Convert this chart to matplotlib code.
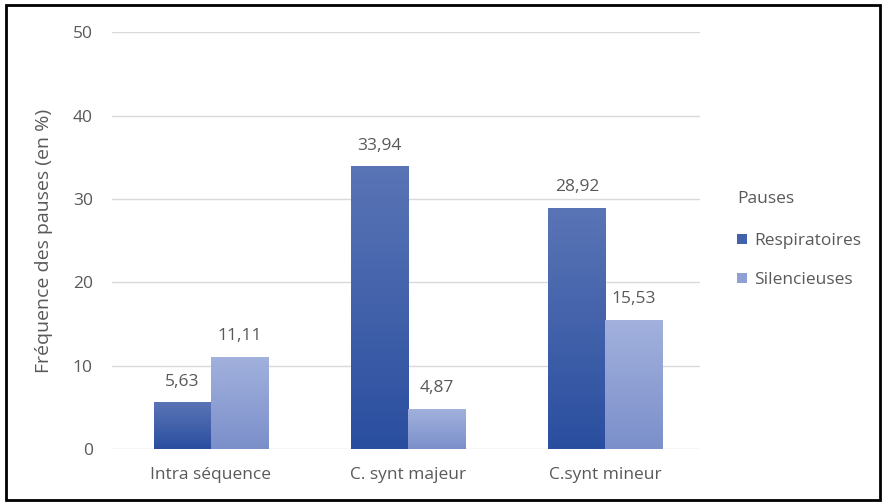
import matplotlib.pyplot as plt
import numpy as np
from matplotlib.patches import Rectangle
from matplotlib.colors import LinearSegmentedColormap

plt.rcParams['font.family'] = ['Open Sans', 'DejaVu Sans']

categories = ['Intra séquence', 'C. synt majeur', 'C.synt mineur']
respiratoires = [5.63, 33.94, 28.92]
silencieuses = [11.11, 4.87, 15.53]
series_names = ['Respiratoires', 'Silencieuses']

text_col = '#595959'
dark_cmap = LinearSegmentedColormap.from_list('d', ['#2a4e9f', '#5a75b6'])
light_cmap = LinearSegmentedColormap.from_list('l', ['#7b8fca', '#a2b1dd'])

fig = plt.figure(figsize=(8.84, 5.03), dpi=100)
ax = fig.add_axes([0.127, 0.107, 0.665, 0.829])

x = np.arange(len(categories))
width = 0.29


def gradient_bars(xs, vals, cmap, label):
    bars = ax.bar(xs, vals, width, color=cmap(0.5), label=label, zorder=2)
    grad = np.linspace(0, 1, 256).reshape(-1, 1)
    for b in bars:
        bx, by = b.get_x(), b.get_y()
        bw, bh = b.get_width(), b.get_height()
        im = ax.imshow(grad, cmap=cmap, origin='lower', aspect='auto',
                       extent=[bx, bx + bw, by, by + bh], zorder=2.5)
        im.set_clip_path(b)
        ax.text(bx + bw / 2, bh + 1.5, f'{bh:.2f}'.replace('.', ','),
                ha='center', va='bottom', fontsize=12.5, color=text_col)
    return bars


gradient_bars(x - width / 2, respiratoires, dark_cmap, series_names[0])
gradient_bars(x + width / 2, silencieuses, light_cmap, series_names[1])

ax.set_xlim(-0.5, 2.48)
ax.set_ylim(0, 50)
ax.set_yticks(range(0, 51, 10))
ax.set_xticks(x)
ax.set_xticklabels(categories)
ax.tick_params(length=0, labelsize=12.5, colors=text_col)
ax.tick_params(axis='y', pad=14)
ax.tick_params(axis='x', pad=13)
ax.grid(axis='y', color='#d9d9d9', linewidth=1, zorder=0)
ax.set_axisbelow(True)
for s in ax.spines.values():
    s.set_visible(False)
ax.set_ylabel('Fréquence des pauses (en %)', fontsize=14, color=text_col)
ax.yaxis.set_label_coords(-0.1, 0.5)

leg = ax.legend(title='Pauses', loc='upper left',
                bbox_to_anchor=(737 / 884, 1 - 191 / 503), bbox_transform=fig.transFigure,
                frameon=False, fontsize=12.5, title_fontsize=12.5,
                handlelength=0.55, handleheight=0.55, handletextpad=0.45,
                labelspacing=1.3, borderpad=0, borderaxespad=0,
                labelcolor=text_col)
leg.get_title().set_color(text_col)
leg._legend_box.align = 'left'
leg._legend_box.sep = 19

fig.patches.append(Rectangle((0.007, 0.006), 0.988, 0.984, transform=fig.transFigure,
                             fill=False, edgecolor='black', linewidth=2))

fig.savefig('out.png', dpi=100)
